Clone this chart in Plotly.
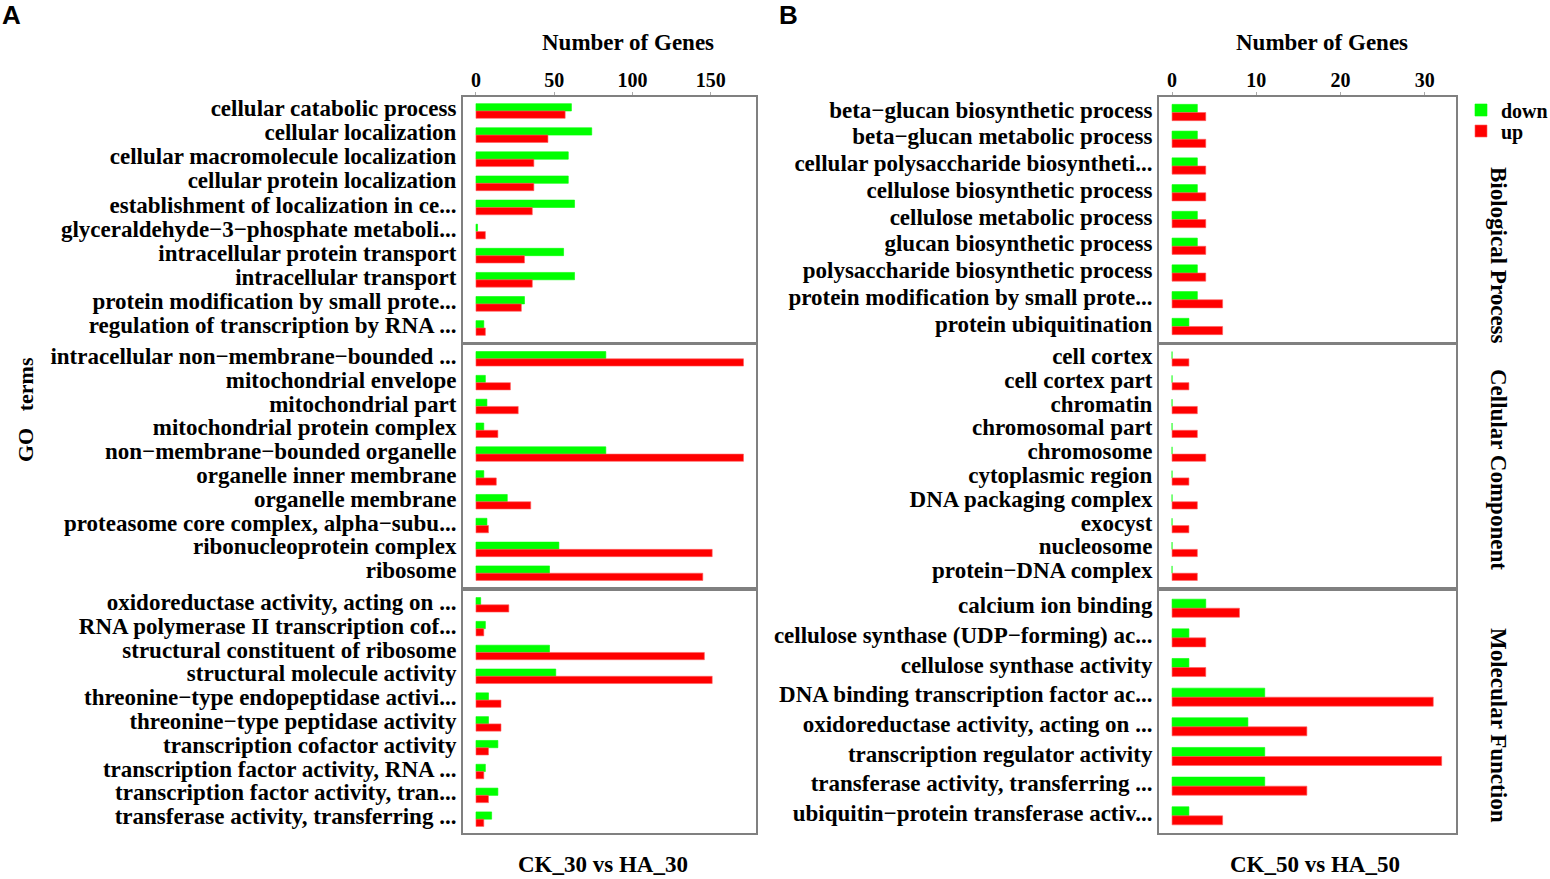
import plotly.graph_objects as go

# panel A: CK_30 vs HA_30
a_bp_terms = ['cellular catabolic process', 'cellular localization', 'cellular macromolecule localization',
              'cellular protein localization', 'establishment of localization in ce...',
              'glyceraldehyde−3−phosphate metaboli...', 'intracellular protein transport',
              'intracellular transport', 'protein modification by small prote...',
              'regulation of transcription by RNA ...']
a_bp_down = [61, 74, 59, 59, 63, 1, 56, 63, 31, 5]
a_bp_up = [57, 46, 37, 37, 36, 6, 31, 36, 29, 6]

a_cc_terms = ['intracellular non−membrane−bounded ...', 'mitochondrial envelope', 'mitochondrial part',
              'mitochondrial protein complex', 'non−membrane−bounded organelle', 'organelle inner membrane',
              'organelle membrane', 'proteasome core complex, alpha−subu...', 'ribonucleoprotein complex',
              'ribosome']
a_cc_down = [83, 6, 7, 5, 83, 5, 20, 7, 53, 47]
a_cc_up = [171, 22, 27, 14, 171, 13, 35, 8, 151, 145]

a_mf_terms = ['oxidoreductase activity, acting on ...', 'RNA polymerase II transcription cof...',
              'structural constituent of ribosome', 'structural molecule activity',
              'threonine−type endopeptidase activi...', 'threonine−type peptidase activity',
              'transcription cofactor activity', 'transcription factor activity, RNA ...',
              'transcription factor activity, tran...', 'transferase activity, transferring ...']
a_mf_down = [3, 6, 47, 51, 8, 8, 14, 6, 14, 10]
a_mf_up = [21, 5, 146, 151, 16, 16, 8, 5, 8, 5]

# panel B: CK_50 vs HA_50
b_bp_terms = ['beta−glucan biosynthetic process', 'beta−glucan metabolic process',
              'cellular polysaccharide biosyntheti...', 'cellulose biosynthetic process',
              'cellulose metabolic process', 'glucan biosynthetic process',
              'polysaccharide biosynthetic process', 'protein modification by small prote...',
              'protein ubiquitination']
b_bp_down = [3, 3, 3, 3, 3, 3, 3, 3, 2]
b_bp_up = [4, 4, 4, 4, 4, 4, 4, 6, 6]

b_cc_terms = ['cell cortex', 'cell cortex part', 'chromatin', 'chromosomal part', 'chromosome',
              'cytoplasmic region', 'DNA packaging complex', 'exocyst', 'nucleosome', 'protein−DNA complex']
b_cc_down = [0, 0, 0, 0, 0, 0, 0, 0, 0, 0]
b_cc_up = [2, 2, 3, 3, 4, 2, 3, 2, 3, 3]

b_mf_terms = ['calcium ion binding', 'cellulose synthase (UDP−forming) ac...', 'cellulose synthase activity',
              'DNA binding transcription factor ac...', 'oxidoreductase activity, acting on ...',
              'transcription regulator activity', 'transferase activity, transferring ...',
              'ubiquitin−protein transferase activ...']
b_mf_down = [4, 2, 2, 11, 9, 11, 11, 2]
b_mf_up = [8, 4, 4, 31, 16, 32, 16, 6]

ticks_a = [0, 50, 100, 150]
ticks_b = [0, 10, 20, 30]

W, H = 1550, 879
SERIF = 'Liberation Serif'
GREEN = '#00ff00'
RED = '#ff0000'

def px(x):
    return x / W

def py(y):
    return 1 - y / H

ydoms = [(py(342), py(97)), (py(587), py(345)), (py(833), py(591))]
xdom_a = (px(463), px(756))
xdom_b = (px(1159), px(1456))

facets = [
    (a_bp_terms, a_bp_down, a_bp_up, 0, 'a'),
    (a_cc_terms, a_cc_down, a_cc_up, 1, 'a'),
    (a_mf_terms, a_mf_down, a_mf_up, 2, 'a'),
    (b_bp_terms, b_bp_down, b_bp_up, 0, 'b'),
    (b_cc_terms, b_cc_down, b_cc_up, 1, 'b'),
    (b_mf_terms, b_mf_down, b_mf_up, 2, 'b'),
]

fig = go.Figure()
layout = {}
pad = 0.58
for i, (terms, down, up, row, panel) in enumerate(facets):
    n = i + 1
    xa = 'x' if n == 1 else f'x{n}'
    ya = 'y' if n == 1 else f'y{n}'
    first = (i == 0)
    fig.add_trace(go.Bar(y=terms, x=down, orientation='h', name='down', legend='legend',
                         showlegend=first, marker=dict(color=GREEN, line=dict(color=GREEN, width=0.6)),
                         xaxis=xa, yaxis=ya))
    fig.add_trace(go.Bar(y=terms, x=up, orientation='h', name='up', legend='legend2',
                         showlegend=first, marker=dict(color=RED, line=dict(color='#ff6060', width=0.6)),
                         xaxis=xa, yaxis=ya))
    top = (row == 0)
    if panel == 'a':
        xr, tv, dom = [-8.3, 179], ticks_a, xdom_a
    else:
        xr, tv, dom = [-1.55, 33.7], ticks_b, xdom_b
    layout[f'xaxis{n}' if n > 1 else 'xaxis'] = dict(
        domain=dom, range=xr, anchor=ya, side='top', tickvals=tv, automargin=False,
        showticklabels=top, ticks='outside' if top else '', ticklen=3, tickcolor='#aaaaaa',
        ticklabelstandoff=-3,
        showgrid=False, zeroline=False, showline=True, mirror=True, linecolor='#808080', linewidth=2,
        tickfont=dict(family=SERIF, size=20, color='black', weight='bold'), fixedrange=True)
    layout[f'yaxis{n}' if n > 1 else 'yaxis'] = dict(
        domain=ydoms[row], anchor=xa, type='category', categoryorder='array', categoryarray=terms,
        tickmode='array', tickvals=terms, ticktext=terms, automargin=False, ticklabelshift=3,
        range=[len(terms) - 1 + pad, -pad], ticks='', showgrid=False, zeroline=False,
        showline=True, mirror=True, linecolor='#808080', linewidth=2,
        tickfont=dict(family=SERIF, size=23, color='black', weight='bold'), fixedrange=True)

fig.update_layout(**layout)

annots = [
    dict(text='<b>A</b>', x=px(0), y=py(-2), xanchor='left', yanchor='top',
         font=dict(family='Liberation Sans', size=26)),
    dict(text='<b>B</b>', x=px(777), y=py(-2), xanchor='left', yanchor='top',
         font=dict(family='Liberation Sans', size=26)),
    dict(text='<b>Number of Genes</b>', x=px(628), y=py(42), font=dict(family=SERIF, size=23)),
    dict(text='<b>Number of Genes</b>', x=px(1322), y=py(42), font=dict(family=SERIF, size=23)),
    dict(text='<b>CK_30 vs HA_30</b>', x=px(603), y=py(864), font=dict(family=SERIF, size=23)),
    dict(text='<b>CK_50 vs HA_50</b>', x=px(1315), y=py(864), font=dict(family=SERIF, size=23)),
    dict(text='<b>GO   terms</b>', x=px(25), y=py(410), textangle=-90, font=dict(family=SERIF, size=22)),
    dict(text='<b>Biological Process</b>', x=px(1499), y=py(255), textangle=90, font=dict(family=SERIF, size=23)),
    dict(text='<b>Cellular Component</b>', x=px(1499), y=py(469), textangle=90, font=dict(family=SERIF, size=23)),
    dict(text='<b>Molecular Function</b>', x=px(1499), y=py(725), textangle=90, font=dict(family=SERIF, size=23)),
]
for a in annots:
    a.setdefault('xanchor', 'center')
    a.setdefault('yanchor', 'middle')
    a['font'].setdefault('color', 'black')
    fig.add_annotation(xref='paper', yref='paper', showarrow=False, **a)

leg_style = dict(xanchor='left', yanchor='middle', itemwidth=30, bgcolor='rgba(0,0,0,0)',
                 font=dict(family=SERIF, size=20, color='black', weight='bold'))
fig.update_layout(
    width=W, height=H, margin=dict(l=0, r=0, t=0, b=0, autoexpand=False),
    paper_bgcolor='white', plot_bgcolor='white',
    barmode='group', bargap=0.39, bargroupgap=0,
    legend=dict(x=px(1461), y=py(110), **leg_style),
    legend2=dict(x=px(1461), y=py(131), **leg_style),
)

fig.write_html('out.html', config={'displayModeBar': False},
               post_script="document.body.style.margin='0';document.body.style.overflow='hidden';"
                           "document.documentElement.style.overflow='hidden';")
